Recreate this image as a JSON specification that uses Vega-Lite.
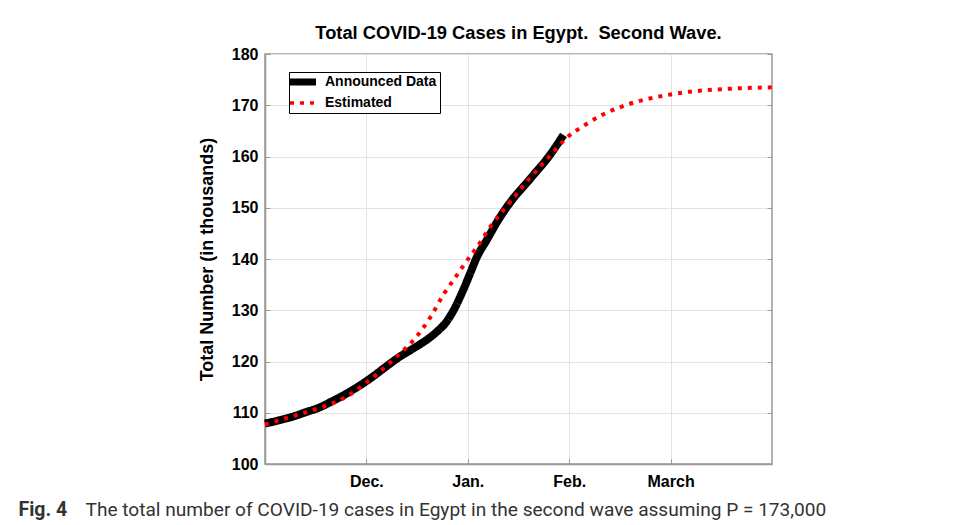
{
  "$schema": "https://vega.github.io/schema/vega-lite/v6.json",
  "autosize": {"type": "none"},
  "width": 507,
  "height": 410,
  "padding": {"left": 265, "top": 54, "right": 184, "bottom": 61},
  "background": "white",
  "title": {
    "text": "Total COVID-19 Cases in Egypt.\u00a0 Second Wave.",
    "font": "Liberation Sans",
    "fontSize": 18.3,
    "fontWeight": "bold",
    "color": "black",
    "offset": 3
  },
  "data": {
    "values": [
      {"series": "Announced Data", "day": 0, "value": 107.9},
      {"series": "Announced Data", "day": 4, "value": 108.5},
      {"series": "Announced Data", "day": 8, "value": 109.2},
      {"series": "Announced Data", "day": 12, "value": 110.1},
      {"series": "Announced Data", "day": 16, "value": 111.0},
      {"series": "Announced Data", "day": 20, "value": 112.3},
      {"series": "Announced Data", "day": 24, "value": 113.7},
      {"series": "Announced Data", "day": 28, "value": 115.3},
      {"series": "Announced Data", "day": 32, "value": 117.1},
      {"series": "Announced Data", "day": 36, "value": 119.1},
      {"series": "Announced Data", "day": 40, "value": 121.0},
      {"series": "Announced Data", "day": 44, "value": 122.6},
      {"series": "Announced Data", "day": 48, "value": 124.3},
      {"series": "Announced Data", "day": 51, "value": 125.9},
      {"series": "Announced Data", "day": 53.5, "value": 127.6},
      {"series": "Announced Data", "day": 55.8, "value": 130.0},
      {"series": "Announced Data", "day": 58.2, "value": 133.3},
      {"series": "Announced Data", "day": 60.7, "value": 137.2},
      {"series": "Announced Data", "day": 62.7, "value": 140.4},
      {"series": "Announced Data", "day": 65.6, "value": 143.7},
      {"series": "Announced Data", "day": 69, "value": 147.6},
      {"series": "Announced Data", "day": 72.5, "value": 151.0},
      {"series": "Announced Data", "day": 78.4, "value": 155.6},
      {"series": "Announced Data", "day": 84.3, "value": 160.3},
      {"series": "Announced Data", "day": 88.3, "value": 164.2},
      {"series": "Estimated", "day": 0, "value": 107.7},
      {"series": "Estimated", "day": 8, "value": 109.3},
      {"series": "Estimated", "day": 16, "value": 110.9},
      {"series": "Estimated", "day": 24, "value": 113.1},
      {"series": "Estimated", "day": 30, "value": 115.9},
      {"series": "Estimated", "day": 35, "value": 118.6},
      {"series": "Estimated", "day": 39, "value": 121.0},
      {"series": "Estimated", "day": 44, "value": 124.2},
      {"series": "Estimated", "day": 49, "value": 128.7},
      {"series": "Estimated", "day": 53, "value": 133.3},
      {"series": "Estimated", "day": 56, "value": 136.1},
      {"series": "Estimated", "day": 59, "value": 139.0},
      {"series": "Estimated", "day": 63, "value": 142.6},
      {"series": "Estimated", "day": 67, "value": 146.6},
      {"series": "Estimated", "day": 72, "value": 150.7},
      {"series": "Estimated", "day": 78, "value": 155.5},
      {"series": "Estimated", "day": 84, "value": 159.9},
      {"series": "Estimated", "day": 89, "value": 163.5},
      {"series": "Estimated", "day": 95, "value": 166.3},
      {"series": "Estimated", "day": 100, "value": 168.2},
      {"series": "Estimated", "day": 105, "value": 169.6},
      {"series": "Estimated", "day": 110, "value": 170.7},
      {"series": "Estimated", "day": 115, "value": 171.5},
      {"series": "Estimated", "day": 120, "value": 172.1},
      {"series": "Estimated", "day": 125, "value": 172.6},
      {"series": "Estimated", "day": 130, "value": 172.9},
      {"series": "Estimated", "day": 140, "value": 173.3},
      {"series": "Estimated", "day": 150, "value": 173.5}
    ]
  },
  "encoding": {
    "x": {
      "field": "day",
      "type": "quantitative",
      "scale": {"domain": [0, 150], "nice": false, "zero": false},
      "axis": {
        "values": [30, 60, 90, 120],
        "labelExpr": "datum.value == 30 ? 'Dec.' : datum.value == 60 ? 'Jan.' : datum.value == 90 ? 'Feb.' : 'March'",
        "labelPadding": 14,
        "title": "The total number of COVID-19 cases in Egypt in the second wave assuming P = 173,000",
        "titleFont": "Roboto",
        "titleFontWeight": "normal",
        "titleFontSize": 19.1,
        "titleColor": "#333333",
        "titleAlign": "left",
        "titleAnchor": null,
        "titleBaseline": "middle",
        "titleX": -180,
        "titleY": 45
      }
    },
    "y": {
      "field": "value",
      "type": "quantitative",
      "scale": {"domain": [100, 180], "nice": false, "zero": false},
      "axis": {
        "values": [100, 110, 120, 130, 140, 150, 160, 170, 180],
        "labelPadding": 12,
        "title": "Total Number (in thousands)",
        "titleFont": "Liberation Sans",
        "titleFontSize": 18,
        "titleFontWeight": "bold",
        "titleColor": "black",
        "titlePadding": 15
      }
    },
    "color": {
      "field": "series",
      "type": "nominal",
      "scale": {"domain": ["Announced Data", "Estimated"], "range": ["black", "#ff0000"]},
      "legend": {
        "title": null,
        "orient": "none",
        "legendX": 24,
        "legendY": 18,
        "strokeColor": "black",
        "fillColor": "white",
        "padding": 3,
        "symbolType": "stroke",
        "symbolSize": 676,
        "symbolOffset": 4,
        "labelFont": "Liberation Sans",
        "labelFontSize": 14,
        "labelFontWeight": "bold",
        "labelColor": "black",
        "labelOffset": 15,
        "rowPadding": -5,
        "encode": {
          "symbols": {
            "update": {
              "strokeWidth": {"signal": "datum.value === 'Announced Data' ? 7 : 3.5"}
            }
          }
        }
      }
    },
    "strokeDash": {
      "field": "series",
      "type": "nominal",
      "scale": {"domain": ["Announced Data", "Estimated"], "range": [[1, 0], [4, 6]]},
      "legend": {
        "title": null,
        "orient": "none",
        "legendX": 24,
        "legendY": 18,
        "strokeColor": "black",
        "fillColor": "white",
        "padding": 3,
        "symbolType": "stroke",
        "symbolSize": 676,
        "symbolOffset": 4,
        "labelFont": "Liberation Sans",
        "labelFontSize": 14,
        "labelFontWeight": "bold",
        "labelColor": "black",
        "labelOffset": 15,
        "rowPadding": -5,
        "encode": {
          "symbols": {
            "update": {
              "strokeWidth": {"signal": "datum.value === 'Announced Data' ? 7 : 3.5"}
            }
          }
        }
      }
    }
  },
  "layer": [
    {
      "transform": [{"filter": "datum.series === 'Announced Data'"}],
      "mark": {"type": "line", "strokeWidth": 8, "interpolate": "monotone", "strokeCap": "butt"}
    },
    {
      "transform": [{"filter": "datum.series === 'Estimated'"}],
      "mark": {"type": "line", "strokeWidth": 4, "interpolate": "monotone", "strokeCap": "butt"},
      "encoding": {
        "y": {
          "field": "value",
          "type": "quantitative",
          "axis": {
            "orient": "right",
            "values": [100, 110, 120, 130, 140, 150, 160, 170, 180],
            "labels": false,
            "grid": false,
            "domain": false,
            "title": "Fig. 4",
            "titleAngle": 0,
            "titleFont": "Roboto",
            "titleFontSize": 19.5,
            "titleFontWeight": "bold",
            "titleColor": "#333333",
            "titleAlign": "left",
            "titleBaseline": "middle",
            "titleAnchor": null,
            "titleX": -754,
            "titleY": 455
          }
        }
      }
    }
  ],
  "resolve": {"axis": {"y": "independent"}},
  "config": {
    "view": {"stroke": "#999999", "strokeWidth": 1.5},
    "axis": {
      "labelFont": "Liberation Sans",
      "labelFontSize": 16,
      "labelFontWeight": "bold",
      "labelColor": "black",
      "domainColor": "#999999",
      "domainWidth": 1.5,
      "tickColor": "#999999",
      "tickSize": -5,
      "gridColor": "#e3e3e3",
      "gridWidth": 1
    }
  }
}
